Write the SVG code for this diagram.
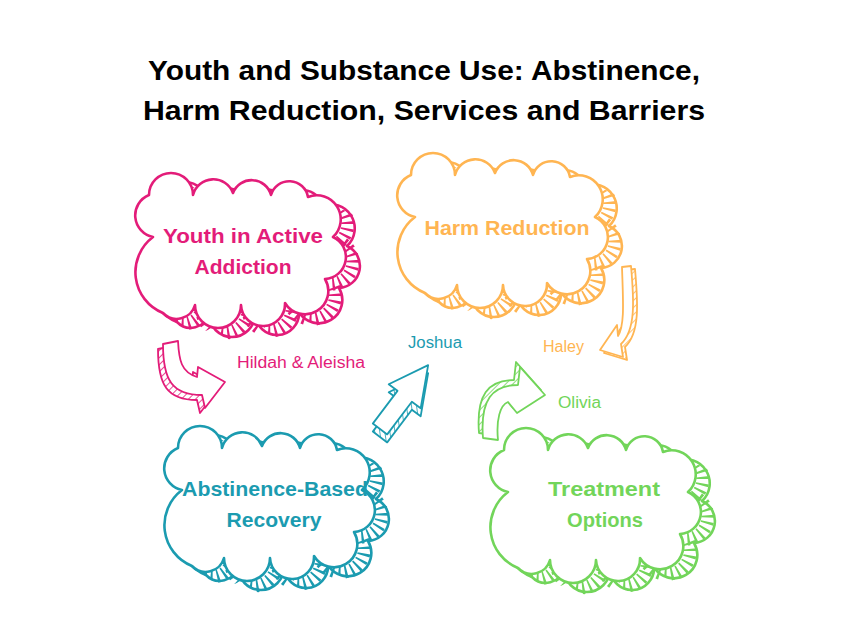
<svg xmlns="http://www.w3.org/2000/svg" width="848" height="636" viewBox="0 0 848 636">
<style>
.title{font-family:"Liberation Sans",Arial,sans-serif;font-weight:bold;font-size:28px;fill:#000;text-anchor:middle}
.cl{font-family:"Liberation Sans",Arial,sans-serif;font-weight:bold;font-size:21px;text-anchor:middle}
.lb{font-family:"Liberation Sans",Arial,sans-serif;font-size:16px}
.main{fill:#fff;stroke-width:2.6;stroke-linejoin:round}
.sh{fill:#fff;stroke-width:2.6;stroke-linejoin:round}
.band{fill:none;stroke-width:13;stroke-dasharray:2.2 4.3}
.ar{fill:#fff;stroke-width:1.8;stroke-linejoin:round}
.ash{stroke-width:1.8;stroke-linejoin:round}
</style>
<defs>
<path id="cloud" d="M 16,20 A 22 22 0 0 1 60,20 A 21 21 0 0 1 100,18 A 20 20 0 0 1 138,20 A 19 19 0 0 1 175,22 A 24 24 0 0 1 200,62 A 22 22 0 0 1 192,104 A 23 23 0 0 1 152,128 A 22 22 0 0 1 108,130 A 23 23 0 0 1 62,130 A 19 19 0 0 1 30,138 A 44 44 0 0 1 20,62 A 22 22 0 0 1 16,20 Z"/>
<clipPath id="shclip"><use href="#cloud" x="14" y="9"/></clipPath>
<pattern id="hp" patternUnits="userSpaceOnUse" width="5" height="5" patternTransform="rotate(45)"><rect width="5" height="5" fill="#fff"/><line x1="0" y1="0" x2="0" y2="5" stroke="#E31C79" stroke-width="1.6"/></pattern>
<pattern id="ho" patternUnits="userSpaceOnUse" width="5" height="5" patternTransform="rotate(45)"><rect width="5" height="5" fill="#fff"/><line x1="0" y1="0" x2="0" y2="5" stroke="#FFB552" stroke-width="1.6"/></pattern>
<pattern id="ht" patternUnits="userSpaceOnUse" width="5" height="5" patternTransform="rotate(45)"><rect width="5" height="5" fill="#fff"/><line x1="0" y1="0" x2="0" y2="5" stroke="#1B9BB0" stroke-width="1.6"/></pattern>
<pattern id="hg" patternUnits="userSpaceOnUse" width="5" height="5" patternTransform="rotate(45)"><rect width="5" height="5" fill="#fff"/><line x1="0" y1="0" x2="0" y2="5" stroke="#72D55A" stroke-width="1.6"/></pattern>
</defs>
<rect width="848" height="636" fill="#fff"/>
<g id="title">
<text class="title" x="424" y="80" textLength="552" lengthAdjust="spacingAndGlyphs">Youth and Substance Use: Abstinence,</text>
<text class="title" x="424" y="120" textLength="562" lengthAdjust="spacingAndGlyphs">Harm Reduction, Services and Barriers</text>
</g>
<g id="node-addiction">
<g transform="translate(133,175)" stroke="#E31C79">
<use href="#cloud" x="14" y="9" class="sh"/>
<use href="#cloud" x="7" y="5" class="band" clip-path="url(#shclip)"/>
<use href="#cloud" class="main"/>
</g>
<text class="cl" x="243" y="243" fill="#E31C79" textLength="160" lengthAdjust="spacingAndGlyphs">Youth in Active</text>
<text class="cl" x="243" y="274" fill="#E31C79" textLength="97" lengthAdjust="spacingAndGlyphs">Addiction</text>
</g>
<g id="node-harm">
<g transform="translate(395,155)" stroke="#FFB552">
<use href="#cloud" x="14" y="9" class="sh"/>
<use href="#cloud" x="7" y="5" class="band" clip-path="url(#shclip)"/>
<use href="#cloud" class="main"/>
</g>
<text class="cl" x="507" y="235" fill="#FFB552" textLength="165" lengthAdjust="spacingAndGlyphs">Harm Reduction</text>
</g>
<g id="node-abstinence">
<g transform="translate(162,428)" stroke="#1B9BB0">
<use href="#cloud" x="14" y="9" class="sh"/>
<use href="#cloud" x="7" y="5" class="band" clip-path="url(#shclip)"/>
<use href="#cloud" class="main"/>
</g>
<text class="cl" x="275" y="496" fill="#1B9BB0" textLength="186" lengthAdjust="spacingAndGlyphs">Abstinence-Based</text>
<text class="cl" x="274" y="527" fill="#1B9BB0" textLength="95" lengthAdjust="spacingAndGlyphs">Recovery</text>
</g>
<g id="node-treatment">
<g transform="translate(488,430)" stroke="#72D55A">
<use href="#cloud" x="14" y="9" class="sh"/>
<use href="#cloud" x="7" y="5" class="band" clip-path="url(#shclip)"/>
<use href="#cloud" class="main"/>
</g>
<text class="cl" x="604" y="496" fill="#72D55A" textLength="112" lengthAdjust="spacingAndGlyphs">Treatment</text>
<text class="cl" x="605" y="527" fill="#72D55A" textLength="76" lengthAdjust="spacingAndGlyphs">Options</text>
</g>
<g id="connectors">
<g id="arrow-pink">
<path class="ash" transform="translate(-5,5)" fill="url(#hp)" stroke="#E31C79" d="M 163,344 L 178,341 C 179,360 181,372 197,377 L 198,367 L 225,382 L 205,408 L 202,395 C 172,395 163,380 163,344 Z"/>
<path class="ar" stroke="#E31C79" d="M 163,344 L 178,341 C 179,360 181,372 197,377 L 198,367 L 225,382 L 205,408 L 202,395 C 172,395 163,380 163,344 Z"/>
</g>
<g id="arrow-teal">
<path class="ash" transform="translate(380,437) rotate(-53)" fill="url(#ht)" stroke="#1B9BB0" d="M 0,-9 L 41,-9 L 41,-20 L 80,0 L 41,20 L 41,9 L 0,9 Z"/>
<path class="ar" transform="translate(380,429) rotate(-53)" stroke="#1B9BB0" d="M 0,-9 L 41,-9 L 41,-20 L 80,0 L 41,20 L 41,9 L 0,9 Z"/>
</g>
<g id="arrow-orange">
<path class="ash" transform="translate(4,3)" fill="url(#ho)" stroke="#FFB552" d="M 622,267 L 631,266 C 634,300 636,330 621,344 L 623,357 L 600,350 L 617,325 L 618,336 C 625,325 623,300 622,267 Z"/>
<path class="ar" stroke="#FFB552" d="M 622,267 L 631,266 C 634,300 636,330 621,344 L 623,357 L 600,350 L 617,325 L 618,336 C 625,325 623,300 622,267 Z"/>
</g>
<g id="arrow-green">
<path class="ash" transform="translate(-4,-5)" fill="url(#hg)" stroke="#72D55A" d="M 483,438 L 498,440 C 496,420 500,405 508,402 L 517,413 L 545,395 L 520,367 L 518,385 C 492,385 480,400 483,438 Z"/>
<path class="ar" stroke="#72D55A" d="M 483,438 L 498,440 C 496,420 500,405 508,402 L 517,413 L 545,395 L 520,367 L 518,385 C 492,385 480,400 483,438 Z"/>
</g>
</g>
<g id="labels">
<text class="lb" x="237" y="368" fill="#E31C79" textLength="128" lengthAdjust="spacingAndGlyphs">Hildah &amp; Aleisha</text>
<text class="lb" x="408" y="348" fill="#1B9BB0" textLength="54" lengthAdjust="spacingAndGlyphs">Joshua</text>
<text class="lb" x="543" y="352" fill="#FFB552" textLength="41" lengthAdjust="spacingAndGlyphs">Haley</text>
<text class="lb" x="558" y="408" fill="#72D55A" textLength="43" lengthAdjust="spacingAndGlyphs">Olivia</text>
</g>
</svg>
